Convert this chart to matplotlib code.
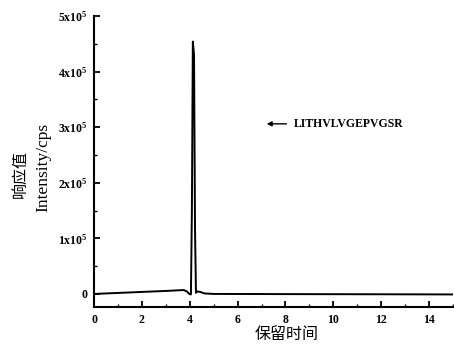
import matplotlib
matplotlib.use("Agg")
import matplotlib.pyplot as plt
from matplotlib.ticker import MultipleLocator, FixedLocator

plt.rcParams['font.family'] = ['Liberation Serif', 'Noto Sans CJK SC']
plt.rcParams['mathtext.fontset'] = 'custom'
plt.rcParams['mathtext.rm'] = 'Liberation Serif'
plt.rcParams['mathtext.bf'] = 'Liberation Serif:bold'

# Chromatogram trace (retention time in min, intensity in cps)
time_min = [0.0, 1.0, 2.0, 3.0, 3.75, 3.88, 3.98, 4.05, 4.09, 4.13, 4.18, 4.22,
            4.26, 4.32, 4.45, 4.6, 5.0, 8.0, 12.0, 15.0]
intensity = [0, 1800, 3600, 5400, 7000, 4500, 0, -1000, 150000, 454000,
             430000, 120000, 2000, 4500, 3500, 1000, 0, -300, -600, -900]

y_ticks = [0, 100000, 200000, 300000, 400000, 500000]
y_tick_labels = ['0', r'$\mathbf{1x10^5}$', r'$\mathbf{2x10^5}$', r'$\mathbf{3x10^5}$',
                 r'$\mathbf{4x10^5}$', r'$\mathbf{5x10^5}$']
x_ticks = [0, 2, 4, 6, 8, 10, 12, 14]

peptide = 'LITHVLVGEPVGSR'

fig = plt.figure(figsize=(4.54, 3.48), dpi=100)
ax = fig.add_axes([94 / 454, (348 - 307) / 348, (453 - 94) / 454, (307 - 16) / 348])

ax.plot(time_min, intensity, color='black', linewidth=1.4)

ax.set_xlim(0, 15)
ax.set_ylim(-23500, 500000)

ax.spines['top'].set_visible(False)
ax.spines['right'].set_visible(False)
for s in ('left', 'bottom'):
    ax.spines[s].set_linewidth(1.5)

ax.xaxis.set_major_locator(FixedLocator(x_ticks))
ax.xaxis.set_minor_locator(MultipleLocator(1))
ax.yaxis.set_major_locator(FixedLocator(y_ticks))
ax.yaxis.set_minor_locator(MultipleLocator(50000))
ax.set_yticklabels(y_tick_labels)
ax.tick_params(which='major', direction='in', length=4, width=1.3, labelsize=8.5, pad=5)
ax.tick_params(which='minor', direction='in', length=2, width=1.0)
for lbl in ax.get_xticklabels() + ax.get_yticklabels():
    lbl.set_fontweight('bold')

ax.annotate('', xy=(7.1, 306000), xytext=(8.15, 306000),
            arrowprops=dict(arrowstyle='-|>', color='black', lw=1.0,
                            mutation_scale=7))
ax.text(8.35, 306000, peptide, fontsize=8.5, fontweight='bold', va='center', ha='left')

fig.text(287 / 454, 1 - 334 / 348, '保留时间', fontsize=11.5, family=['Noto Sans CJK SC'],
         ha='center', va='center')
fig.text(20 / 454, 0.5, '响应值', rotation=90, fontsize=11.5, family=['Noto Sans CJK SC'],
         ha='center', va='center')
fig.text(43 / 454, 0.52, 'Intensity/cps', rotation=90, fontsize=12.5,
         ha='center', va='center')

fig.savefig('out.png', dpi=100)
